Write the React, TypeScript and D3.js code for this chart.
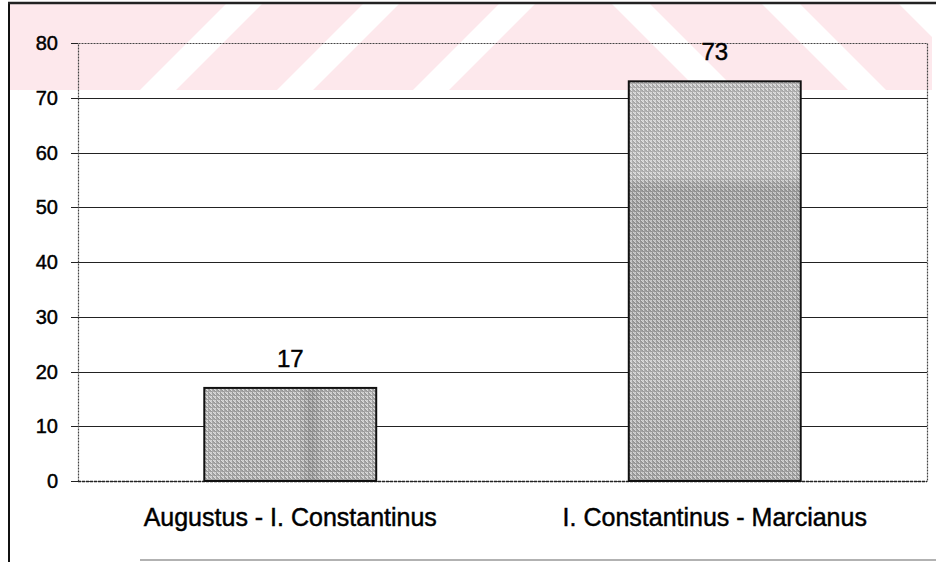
import React from "react";
import * as d3 from "d3";

const categories = ["Augustus - I. Constantinus", "I. Constantinus - Marcianus"];
const values = [17, 73];
const yTicks = [0, 10, 20, 30, 40, 50, 60, 70, 80];

const W = 936;
const H = 562;
const plot = { left: 78, right: 927, top: 43, bottom: 481 };
const FONT = "'Liberation Sans', Arial, Helvetica, sans-serif";

// watermark stripe gaps (decorative)
const slashGaps = [140, 277, 413];
const backGaps = [611, 761, 898];

export default function App() {
  const y = d3.scaleLinear().domain([0, 80]).range([plot.bottom, plot.top]);
  const x = d3
    .scaleBand<string>()
    .domain(categories)
    .range([plot.left, plot.right])
    .paddingInner(0.595)
    .paddingOuter(0.2975);

  const bandTop = 3;
  const bandBot = 90;
  const hh = bandBot - bandTop;

  const cells: { i: number; j: number; c: string }[] = [];
  const shades = ["#959595", "#d3d3d3", "#ababab", "#dcdcdc", "#bcbcbc", "#9e9e9e", "#c9c9c9", "#a6a6a6"];
  for (let i = 0; i < 4; i++)
    for (let j = 0; j < 4; j++) cells.push({ i, j, c: shades[(i * 3 + j * 5) % shades.length] });

  const textStroke = { stroke: "#000", strokeWidth: 0.45 };

  return (
    <svg width={W} height={H} style={{ position: "absolute", left: 0, top: 0, background: "#fff" }}>
      <defs>
        <pattern id="dither" width={4} height={4} patternUnits="userSpaceOnUse">
          {cells.map((c, k) => (
            <rect key={k} x={c.i} y={c.j} width={1} height={1} fill={c.c} />
          ))}
        </pattern>
        <linearGradient id="shadeH" x1="0" x2="1" y1="0" y2="0">
          <stop offset="0" stopColor="#fff" stopOpacity={0.05} />
          <stop offset="0.55" stopColor="#000" stopOpacity={0.0} />
          <stop offset="0.62" stopColor="#000" stopOpacity={0.12} />
          <stop offset="0.7" stopColor="#000" stopOpacity={0.0} />
          <stop offset="1" stopColor="#fff" stopOpacity={0.05} />
        </linearGradient>
        <linearGradient id="shadeV" x1="0" x2="0" y1="0" y2="1">
          <stop offset="0" stopColor="#fff" stopOpacity={0.14} />
          <stop offset="0.24" stopColor="#fff" stopOpacity={0.14} />
          <stop offset="0.27" stopColor="#000" stopOpacity={0.07} />
          <stop offset="0.6" stopColor="#000" stopOpacity={0.04} />
          <stop offset="0.7" stopColor="#fff" stopOpacity={0.08} />
          <stop offset="1" stopColor="#000" stopOpacity={0.03} />
        </linearGradient>
      </defs>

      {/* watermark band */}
      <rect x={10} y={bandTop} width={W - 10} height={hh} fill="#fde8ec" />
      {slashGaps.map((g, k) => (
        <polygon
          key={"s" + k}
          points={`${g},${bandBot} ${g + 36},${bandBot} ${g + 36 + hh},${bandTop} ${g + hh},${bandTop}`}
          fill="#fff"
        />
      ))}
      {backGaps.map((g, k) => (
        <polygon
          key={"b" + k}
          points={`${g},${bandTop} ${g + 38},${bandTop} ${g + 38 + hh},${bandBot} ${g + hh},${bandBot}`}
          fill="#fff"
        />
      ))}
      <rect x={W - 4} y={bandTop} width={4} height={hh} fill="#fff" />

      {/* outer frame */}
      <line x1={9} x2={9} y1={2} y2={H} stroke="#111" strokeWidth={2} />
      <line x1={8} x2={W} y1={3} y2={3} stroke="#222" strokeWidth={2.5} />
      <line x1={140} x2={W} y1={560} y2={560} stroke="#999" strokeWidth={1.5} />

      {/* gridlines */}
      {yTicks
        .filter((t) => t > 0 && t < 80)
        .map((t) => (
          <line
            key={"g" + t}
            x1={plot.left}
            x2={plot.right}
            y1={Math.round(y(t)) + 0.5}
            y2={Math.round(y(t)) + 0.5}
            stroke="#222"
            strokeWidth={1.2}
          />
        ))}

      {/* plot frame */}
      <rect
        x={plot.left + 0.5}
        y={Math.round(y(80)) + 0.5}
        width={plot.right - plot.left}
        height={Math.round(y(0)) - Math.round(y(80))}
        fill="none"
        stroke="#444"
        strokeWidth={1.2}
        strokeDasharray="2 1"
      />
      <line
        x1={plot.left}
        x2={plot.right}
        y1={Math.round(y(0)) + 0.5}
        y2={Math.round(y(0)) + 0.5}
        stroke="#222"
        strokeWidth={1.5}
        strokeDasharray="3 1"
      />

      {/* ticks */}
      {yTicks.map((t) => (
        <g key={"t" + t}>
          <line
            x1={plot.left - 7}
            x2={plot.left}
            y1={Math.round(y(t)) + 0.5}
            y2={Math.round(y(t)) + 0.5}
            stroke="#222"
            strokeWidth={1}
          />
          <text
            x={58}
            y={y(t)}
            dy="0.36em"
            textAnchor="end"
            fontFamily={FONT}
            fontSize={20}
            fill="#000"
            {...textStroke}
          >
            {t}
          </text>
        </g>
      ))}

      {/* bars */}
      {categories.map((c, i) => {
        const bx = x(c) as number;
        const bw = x.bandwidth();
        const top = y(values[i]);
        const h = y(0) - top;
        return (
          <g key={"bar" + i}>
            <rect x={bx} y={top} width={bw} height={h} fill="url(#dither)" />
            <rect x={bx} y={top} width={bw} height={h} fill={i === 0 ? "url(#shadeH)" : "url(#shadeV)"} />
            <rect x={bx} y={top} width={bw} height={h} fill="none" stroke="#111" strokeWidth={2} />
            <text
              x={bx + bw / 2}
              y={top - 21}
              textAnchor="middle"
              fontFamily={FONT}
              fontSize={24}
              fill="#000"
              {...textStroke}
            >
              {values[i]}
            </text>
          </g>
        );
      })}

      {/* category labels */}
      {categories.map((c) => (
        <text
          key={"c" + c}
          x={(x(c) as number) + x.bandwidth() / 2}
          y={526}
          textAnchor="middle"
          fontFamily={FONT}
          fontSize={25}
          fill="#000"
          {...textStroke}
        >
          {c}
        </text>
      ))}
    </svg>
  );
}
